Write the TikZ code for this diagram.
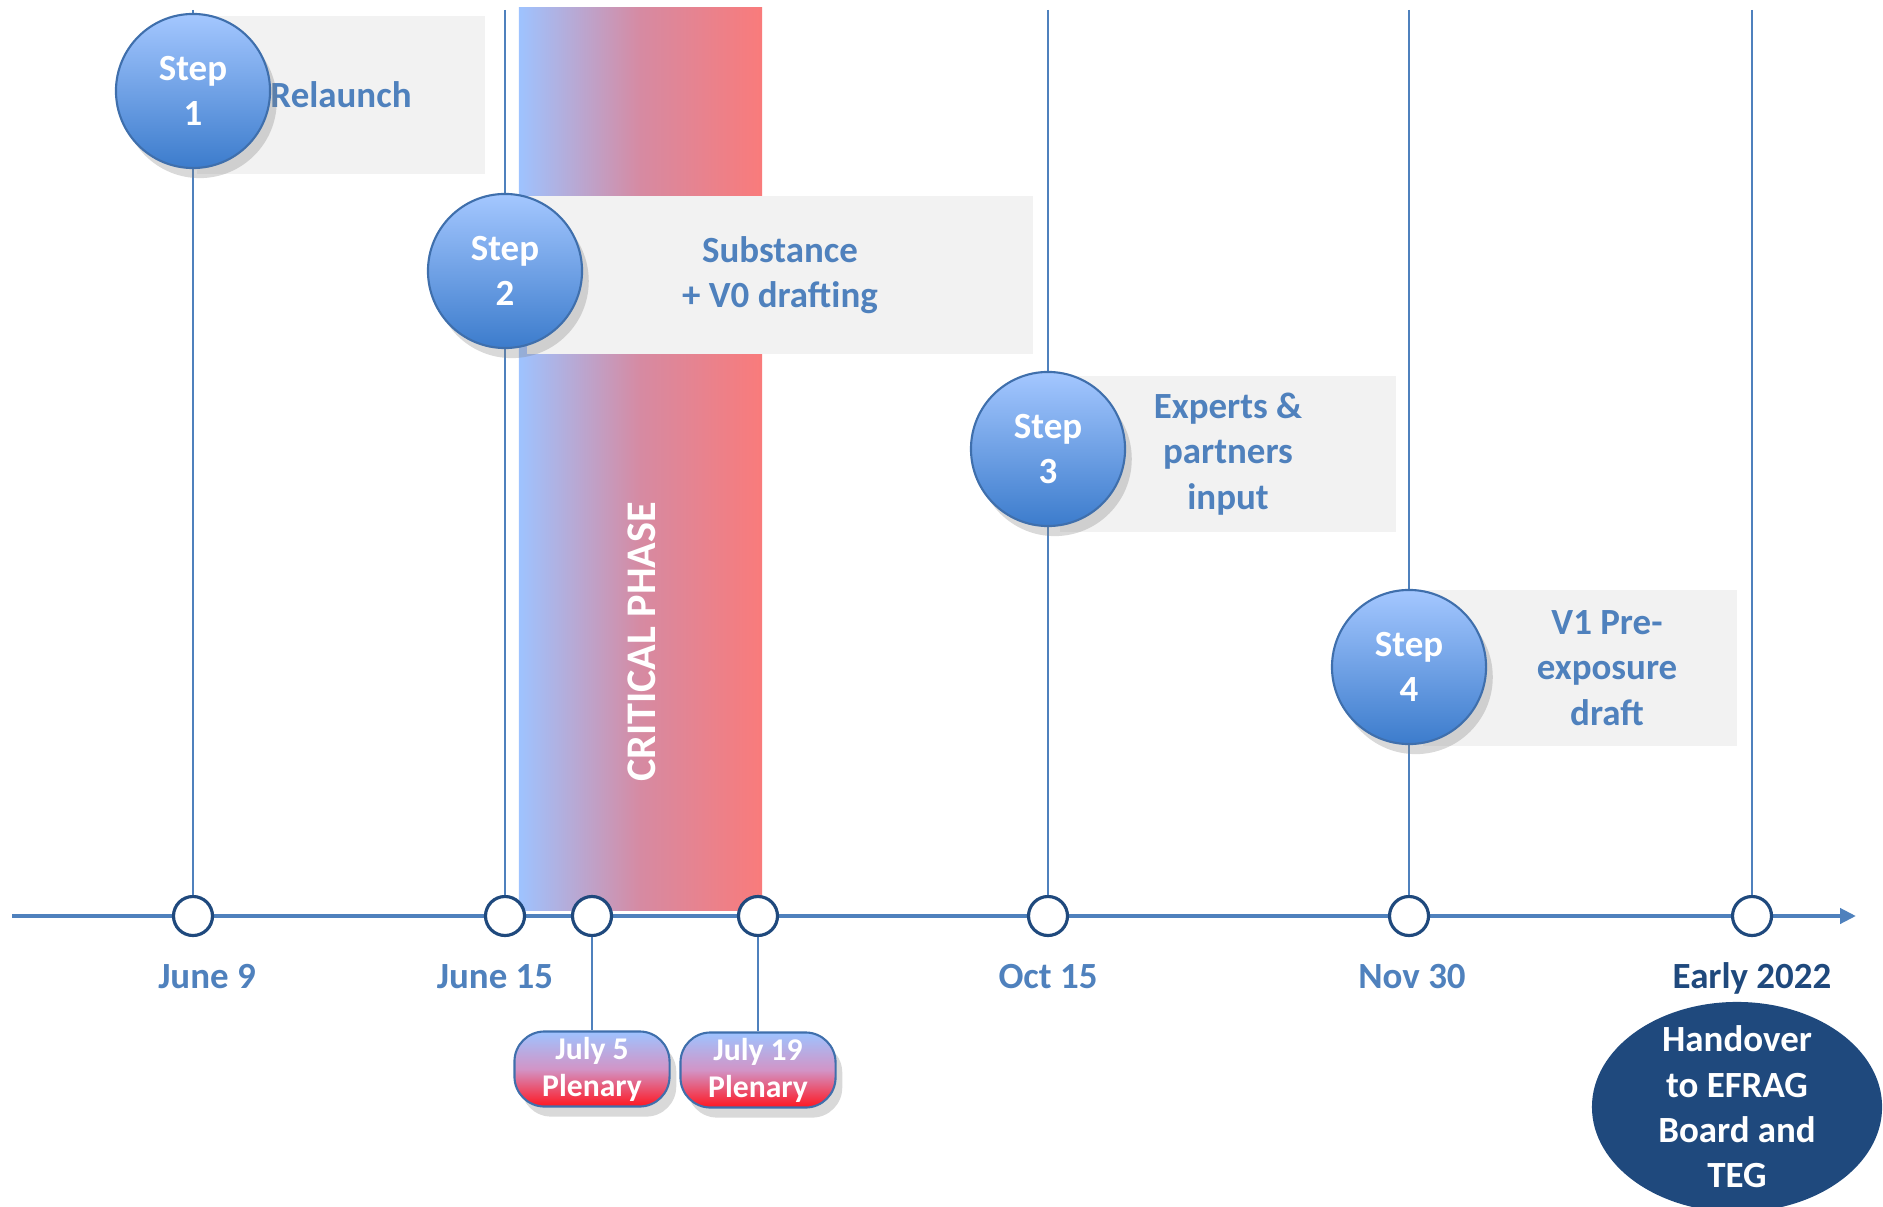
\documentclass[tikz,border=0pt]{standalone}
\usepackage{fontspec}
\setmainfont{Carlito}
\usetikzlibrary{arrows.meta,positioning,shadows,shapes.geometric}

\definecolor{stepblue}{RGB}{79,129,189}
\definecolor{edgeblue}{RGB}{63,111,172}
\definecolor{navy}{RGB}{31,73,125}
\definecolor{lightblue}{RGB}{158,195,255}
\definecolor{salmon}{RGB}{249,123,123}
\definecolor{mauve}{RGB}{214,138,162}
\definecolor{steptop}{RGB}{164,199,255}
\definecolor{stepbot}{RGB}{60,124,204}
\definecolor{pinkmid}{RGB}{210,148,198}
\definecolor{brightred}{RGB}{255,22,32}
\definecolor{boxgray}{RGB}{242,242,242}

\begin{document}
\begin{tikzpicture}[x=0.01cm,y=-0.01cm,
  every node/.style={font=\bfseries\fontsize{10.5}{12.9}\selectfont,align=center},
  stepnode/.style={circle,minimum size=1.54cm,inner sep=0pt,draw=edgeblue,line width=0.6pt,
    top color=steptop,bottom color=stepbot,text=white,
    drop shadow={opacity=0.3,shadow xshift=0.4ex,shadow yshift=-0.6ex}},
  greybox/.style={fill=boxgray,inner sep=0pt,text=stepblue},
  milestone/.style={circle,draw=navy,line width=0.9pt,fill=white,minimum size=0.39cm,inner sep=0pt},
  datelabel/.style={text=stepblue},
  pole/.style={stepblue,line width=0.7pt},
  axis/.style={stepblue,line width=1.4pt,-{Triangle[length=0.16cm,width=0.15cm]}},
  plenary/.style={rounded corners=0.3cm,minimum width=1.55cm,minimum height=0.75cm,inner sep=0pt,
    draw=edgeblue,line width=0.6pt,top color=lightblue,bottom color=brightred,middle color=pinkmid,
    text=white,font=\bfseries\fontsize{9}{10.5}\selectfont,
    drop shadow={opacity=0.3,shadow xshift=0.4ex,shadow yshift=-0.6ex}}]
\useasboundingbox (0,0) rectangle (1883,1207);

\node[inner sep=0pt,minimum width=2.43cm,minimum height=9.02cm,
  left color=lightblue,right color=salmon,middle color=mauve] (crit) at (640.5,459) {};
\node[rotate=90,text=white,font=\bfseries\fontsize{12}{14}\selectfont] (critlab) at (642,642) {CRITICAL PHASE};

\node[greybox,minimum width=2.87cm,minimum height=1.58cm] (b1) at (341,95) {Relaunch};
\node[greybox,minimum width=5.05cm,minimum height=1.57cm] (b2) at (780,275) {Substance\\+ V0 drafting};
\node[greybox,minimum width=3.35cm,minimum height=1.56cm] (b3) at (1228,454) {Experts \&\\partners\\input};
\node[greybox,minimum width=3.14cm,minimum height=1.56cm] (b4) at (1580,668) {};
\node[text=stepblue] (l4) at (1607,668) {V1 Pre-\\exposure\\draft};

\coordinate (axstart) at (12,916);
\coordinate (axend) at (1856,916);
\draw[axis] (axstart) -- (axend);

\foreach \n/\x in {1/193,2/505,3/592,4/758,5/1048,6/1409,7/1752}
  \node[milestone] (m\n) at (\x,916) {};
\foreach \n/\x in {1/193,2/505,5/1048,6/1409,7/1752}{
  \coordinate (t\n) at (\x,10);
  \draw[pole] (t\n) -- (m\n);
}

\node[stepnode] (s1) at (193,91) {Step\\1};
\node[stepnode] (s2) at (505,271) {Step\\2};
\node[stepnode] (s3) at (1048,449) {Step\\3};
\node[stepnode] (s4) at (1409,667) {Step\\4};

\node[datelabel] (d1) at (207,977) {June 9};
\node[datelabel] (d2) at (495,977) {June 15};
\node[datelabel] (d5) at (1048,977) {Oct 15};
\node[datelabel] (d6) at (1412,977) {Nov 30};
\node[text=navy] (d7) at (1752,978) {Early 2022};

\node[plenary] (p1) at (592,1069) {July 5\\Plenary};
\node[plenary] (p2) at (758,1070) {July 19\\Plenary};
\draw[pole] (m3) -- (p1);
\draw[pole] (m4) -- (p2);

\node[ellipse,fill=navy,minimum width=2.9cm,minimum height=2.1cm,inner sep=0pt] (hand) at (1737,1107) {};
\node[text=white] (handlab) at (hand) {Handover\\to EFRAG\\Board and\\TEG};
\end{tikzpicture}
\end{document}
